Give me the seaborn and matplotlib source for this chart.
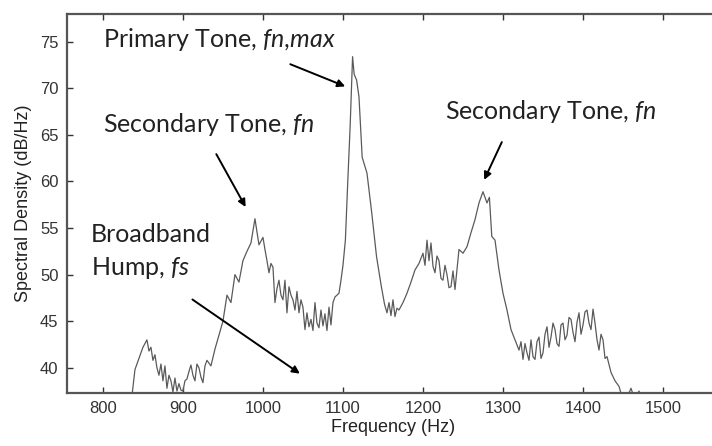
import numpy as np
import pandas as pd
import matplotlib.pyplot as plt
import seaborn as sns

# spectrum (Hz, dB/Hz)
freq = [835, 840, 845, 850, 855, 857.5, 860, 862.5, 865, 867.5, 870, 872.5,
        875, 877.5, 880, 882.5, 885, 887.5, 890, 892.5, 895, 897.5, 900,
        902.5, 905, 907.5, 910, 912.5, 915, 917.5, 920, 922.5, 925, 927.5,
        930, 935, 940, 945, 950, 955, 960, 965, 970, 975, 980, 985, 990, 995,
        1000, 1002.5, 1005, 1007.5, 1010, 1012.5, 1015, 1017.5, 1020, 1022.5,
        1025, 1027.5, 1030, 1032.5, 1035, 1037.5, 1040, 1042.5, 1045, 1047.5,
        1050, 1052.5, 1055, 1057.5, 1060, 1062.5, 1065, 1067.5, 1070, 1072.5,
        1075, 1077.5, 1080, 1082.5, 1085, 1087.5, 1090, 1092.5, 1095, 1097.5,
        1100, 1103, 1106, 1109, 1112, 1114, 1117, 1120, 1124, 1130, 1136,
        1142, 1148, 1152, 1155, 1157.5, 1160, 1162.5, 1165, 1167.5, 1170,
        1175, 1180, 1185, 1190, 1195, 1200, 1202.5, 1205, 1207.5, 1210,
        1212.5, 1215, 1217.5, 1220, 1222.5, 1225, 1227.5, 1230, 1232.5, 1235,
        1237.5, 1240, 1245, 1250, 1255, 1260, 1265, 1270, 1275, 1280, 1283,
        1286, 1290, 1295, 1300, 1305, 1310, 1315, 1320, 1322.5, 1325, 1327.5,
        1330, 1332.5, 1335, 1337.5, 1340, 1342.5, 1345, 1347.5, 1350, 1352.5,
        1355, 1357.5, 1360, 1362.5, 1365, 1367.5, 1370, 1372.5, 1375, 1377.5,
        1380, 1382.5, 1385, 1387.5, 1390, 1392.5, 1395, 1397.5, 1400, 1402.5,
        1405, 1407.5, 1410, 1412.5, 1415, 1417.5, 1420, 1422.5, 1425, 1427.5,
        1430, 1435, 1440, 1445, 1450, 1455, 1460, 1465, 1470, 1475, 1480]
psd = [36.0, 39.8, 41.0, 42.2, 43.0, 41.8, 42.2, 40.8, 41.4, 40.0, 39.2,
       40.4, 38.6, 40.2, 37.8, 39.2, 38.6, 37.4, 38.9, 37.5, 38.3, 37.6, 37.5,
       38.6, 38.8, 39.6, 40.3, 39.2, 38.6, 40.4, 40.0, 39.0, 38.4, 40.2,
       40.8, 40.2, 42.0, 43.5, 45.0, 47.8, 47.0, 50.0, 49.2, 51.5, 52.5, 53.4,
       56.0, 53.2, 54.0, 52.7, 51.5, 50.2, 51.2, 50.8, 47.0, 48.5, 49.4, 47.8,
       47.3, 49.4, 45.9, 48.7, 47.8, 47.3, 46.2, 48.2, 45.9, 47.3, 46.5, 44.1,
       45.9, 44.4, 45.2, 44.0, 47.0, 44.8, 44.3, 46.2, 44.5, 45.8, 44.0, 46.5,
       44.6, 47.0, 47.6, 47.8, 48.0, 49.4, 51.0, 53.7, 60.0, 66.0, 73.4, 71.5,
       70.9, 69.1, 62.6, 60.9, 56.6, 51.9, 48.7, 46.8, 45.9, 47.0, 45.6, 47.3,
       45.5, 46.4, 46.2, 47.0, 48.0, 49.2, 50.5, 51.2, 52.3, 51.0, 53.7, 51.5,
       53.4, 50.9, 50.2, 52.0, 51.5, 49.6, 49.4, 51.0, 50.0, 48.6, 48.7, 50.4,
       48.4, 52.7, 52.3, 53.0, 54.5, 55.9, 57.7, 58.9, 57.7, 58.3, 54.1, 53.7,
       50.5, 48.0, 46.2, 44.1, 43.0, 41.9, 42.8, 40.9, 42.6, 41.6, 40.8, 43.0,
       41.2, 40.9, 42.8, 43.3, 41.0, 41.6, 43.6, 44.4, 42.2, 43.3, 44.8, 44.1,
       42.6, 42.3, 44.6, 44.8, 43.0, 43.5, 45.4, 45.2, 43.8, 42.8, 44.9, 45.9,
       43.6, 44.6, 46.0, 46.2, 44.8, 44.1, 46.3, 44.8, 43.0, 41.9, 43.6, 43.0,
       41.0, 41.2, 39.5, 38.6, 38.0, 36.5, 36.8, 37.8, 36.5, 37.5, 36.2, 35.5]

xticks = [800, 900, 1000, 1100, 1200, 1300, 1400, 1500]
yticks = [40, 45, 50, 55, 60, 65, 70, 75]

df = pd.DataFrame({'Frequency (Hz)': freq, 'Spectral Density (dB/Hz)': psd})

sns.set_style('ticks')
plt.rcParams['font.family'] = ['Liberation Sans', 'DejaVu Sans']
plt.rcParams['mathtext.fontset'] = 'custom'
plt.rcParams['mathtext.rm'] = 'Lato'
plt.rcParams['mathtext.it'] = 'Lato:italic'

fig = plt.figure(figsize=(7.12, 4.46), dpi=100)
ax = fig.add_axes([0.094, 0.119, 0.917, 0.850])

sns.lineplot(data=df, x='Frequency (Hz)', y='Spectral Density (dB/Hz)',
             ax=ax, color='#5a5a5a', linewidth=0.9)

ax.set_xlim(755, 1571)
ax.set_ylim(37.3, 78)
ax.set_xticks(xticks)
ax.set_yticks(yticks)
ax.tick_params(direction='in', length=4, width=1, colors='#333333',
               labelsize=12, top=True, right=False, pad=6)
for s in ['left', 'bottom', 'top']:
    ax.spines[s].set_color('#555555')
    ax.spines[s].set_linewidth(1.6)
ax.spines['right'].set_visible(False)
ax.set_xlabel('Frequency (Hz)', fontsize=13, color='#222222', labelpad=2)
ax.set_ylabel('Spectral Density (dB/Hz)', fontsize=13, color='#222222', labelpad=6)

# annotations
txt = dict(fontsize=18, family='Lato', color='#222222', va='center', ha='left')
arw = dict(arrowstyle='-|>', color='black', lw=1.4, mutation_scale=11)

ax.text(800, 75.2, 'Primary Tone, $fn{,}max$', **txt)
ax.annotate('', xy=(1106, 70.1), xytext=(1031, 72.7), arrowprops=arw)

ax.text(800, 66.1, 'Secondary Tone, $fn$', **txt)
ax.annotate('', xy=(980, 57.0), xytext=(940, 63.2), arrowprops=arw)

ax.text(1227, 67.5, 'Secondary Tone, $fn$', **txt)
ax.annotate('', xy=(1275, 59.9), xytext=(1300, 64.5), arrowprops=arw)

ax.text(785, 54.3, 'Broadband', **txt)
ax.text(785, 50.7, 'Hump, $fs$', **txt)
ax.annotate('', xy=(1049, 39.2), xytext=(909, 47.5), arrowprops=arw)

fig.savefig('out.png', dpi=100)
